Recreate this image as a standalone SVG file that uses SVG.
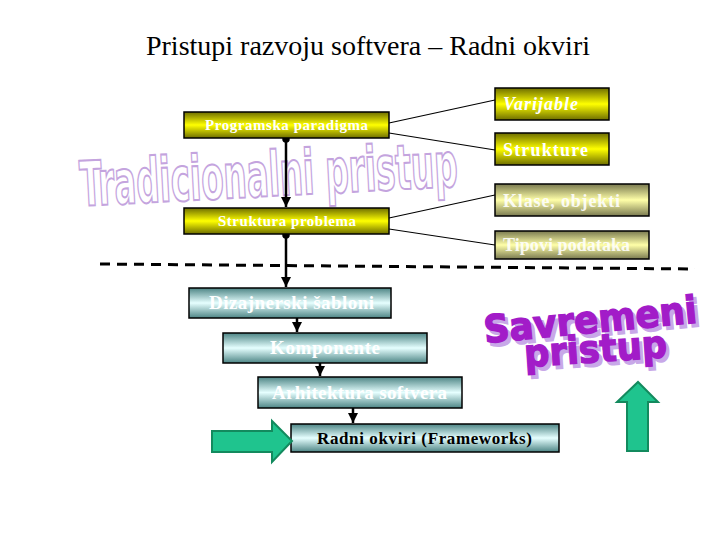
<svg xmlns="http://www.w3.org/2000/svg" width="720" height="540" viewBox="0 0 720 540">
<defs>
<linearGradient id="gy" x1="0" y1="0" x2="0" y2="1">
<stop offset="0" stop-color="#6e6e00"/><stop offset="0.5" stop-color="#ffff00"/><stop offset="1" stop-color="#6e6e00"/>
</linearGradient>
<linearGradient id="gk" x1="0" y1="0" x2="0" y2="1">
<stop offset="0" stop-color="#7a7a50"/><stop offset="0.5" stop-color="#ffffa8"/><stop offset="1" stop-color="#7a7a50"/>
</linearGradient>
<linearGradient id="gt" x1="0" y1="0" x2="0" y2="1">
<stop offset="0" stop-color="#4d8585"/><stop offset="0.5" stop-color="#e6ffff"/><stop offset="1" stop-color="#4d8585"/>
</linearGradient>
<marker id="ah" viewBox="0 0 10 10" refX="10" refY="5" markerWidth="4" markerHeight="4" orient="auto" markerUnits="strokeWidth">
<path d="M0,0 L10,5 L0,10 z" fill="#000"/>
</marker>
<marker id="dot" viewBox="0 0 10 10" refX="5" refY="5" markerWidth="3" markerHeight="3" markerUnits="strokeWidth">
<circle cx="5" cy="5" r="5" fill="#000"/>
</marker>
<style>
.box{stroke:#000;stroke-width:1.5}
.wt{font-family:"Liberation Serif",serif;font-weight:bold;fill:#fff}
.bt{font-family:"Liberation Serif",serif;font-weight:bold;fill:#000}
.ln{stroke:#000;stroke-width:1.2;fill:none}
.va{stroke:#000;stroke-width:2.5;fill:none}
.ga{fill:#1fc48e;stroke:#138a5e;stroke-width:2}
</style>
</defs>
<rect width="720" height="540" fill="#fff"/>
<text x="368" y="55" font-family="Liberation Serif, serif" font-size="28" text-anchor="middle" fill="#000">Pristupi razvoju softvera – Radni okviri</text>

<g id="tradicionalni">
<text x="81" y="206" transform="rotate(-3 81 206)" font-family="Liberation Sans Narrow, DejaVu Sans Condensed, sans-serif" font-weight="bold" font-size="62" fill="#fff" stroke="#c4a4de" stroke-width="2" textLength="378" lengthAdjust="spacingAndGlyphs">Tradicionalni pristup</text>
</g>

<g id="savremeni">
<g transform="rotate(-5.5 485 343)">
<text x="488" y="347" font-family="DejaVu Sans, sans-serif" font-weight="bold" font-size="38" fill="#c8a8e8" stroke="#c8a8e8" stroke-width="1.5" textLength="214" lengthAdjust="spacingAndGlyphs">Savremeni</text>
<text x="485" y="343" font-family="DejaVu Sans, sans-serif" font-weight="bold" font-size="38" fill="#a21cc8" stroke="#a21cc8" stroke-width="1.5" textLength="214" lengthAdjust="spacingAndGlyphs">Savremeni</text>
</g>
<g transform="rotate(-4 525 367)">
<text x="528" y="371" font-family="DejaVu Sans, sans-serif" font-weight="bold" font-size="38" fill="#c8a8e8" stroke="#c8a8e8" stroke-width="1.5" textLength="143" lengthAdjust="spacingAndGlyphs">pristup</text>
<text x="525" y="367" font-family="DejaVu Sans, sans-serif" font-weight="bold" font-size="38" fill="#a21cc8" stroke="#a21cc8" stroke-width="1.5" textLength="143" lengthAdjust="spacingAndGlyphs">pristup</text>
</g>
</g>

<g id="connectors">
<line class="ln" x1="389" y1="123" x2="495" y2="100"/>
<line class="ln" x1="389" y1="133" x2="495" y2="150"/>
<line class="ln" x1="389" y1="218" x2="495" y2="195"/>
<line class="ln" x1="389" y1="229" x2="495" y2="245"/>
<line class="va" x1="286" y1="139" x2="286" y2="207" marker-start="url(#dot)" marker-end="url(#ah)"/>
<line class="va" x1="286" y1="235" x2="286" y2="287" marker-start="url(#dot)" marker-end="url(#ah)"/>
<line class="va" x1="297" y1="318" x2="297" y2="332" stroke-width="2" marker-end="url(#ah)"/>
<line class="va" x1="320" y1="363" x2="320" y2="376" stroke-width="2" marker-end="url(#ah)"/>
<line class="va" x1="353" y1="408" x2="353" y2="423" stroke-width="2" marker-end="url(#ah)"/>
<line x1="100" y1="264" x2="695" y2="269" stroke="#000" stroke-width="3" stroke-dasharray="10 7"/>
</g>

<g id="programska">
<rect class="box" x="184" y="112" width="205" height="26" fill="url(#gy)"/>
<text class="wt" x="205" y="130" font-size="15" textLength="163">Programska paradigma</text>
</g>
<g id="struktura">
<rect class="box" x="184" y="208" width="205" height="26" fill="url(#gy)"/>
<text class="wt" x="218" y="226" font-size="15" textLength="138">Struktura problema</text>
</g>
<g id="varijable">
<rect class="box" x="495" y="88" width="114" height="32" fill="url(#gy)"/>
<text class="wt" x="503" y="110" font-size="18" font-style="italic" textLength="75">Varijable</text>
</g>
<g id="strukture">
<rect class="box" x="495" y="133" width="114" height="32" fill="url(#gy)"/>
<text class="wt" x="503" y="156" font-size="18" textLength="85">Strukture</text>
</g>
<g id="klase">
<rect class="box" x="495" y="184" width="154" height="32" fill="url(#gk)"/>
<text class="wt" x="503" y="207" font-size="18" fill-opacity="0.9" textLength="117">Klase, objekti</text>
</g>
<g id="tipovi">
<rect class="box" x="495" y="231" width="154" height="28" fill="url(#gk)"/>
<text class="wt" x="503" y="251" font-size="18" fill-opacity="0.9" textLength="127">Tipovi podataka</text>
</g>
<g id="dizajnerski">
<rect class="box" x="189" y="288" width="202" height="30" fill="url(#gt)"/>
<text class="wt" x="209" y="309" font-size="19" textLength="165">Dizajnerski šabloni</text>
</g>
<g id="komponente">
<rect class="box" x="223" y="333" width="204" height="30" fill="url(#gt)"/>
<text class="wt" x="270" y="354" font-size="19" textLength="110">Komponente</text>
</g>
<g id="arhitektura">
<rect class="box" x="258" y="377" width="204" height="31" fill="url(#gt)"/>
<text class="wt" x="272" y="399" font-size="19" textLength="175">Arhitektura softvera</text>
</g>
<g id="radni">
<rect class="box" x="291" y="424" width="268" height="28" fill="url(#gt)"/>
<text class="bt" x="317" y="444" font-size="17" textLength="215">Radni  okviri (Frameworks)</text>
</g>

<g id="arrow-right">
<polygon class="ga" points="212,431 272,431 272,421 292,441 272,462 272,452 212,452"/>
</g>
<g id="arrow-up">
<polygon class="ga" points="627,451 627,402 617,402 638,382 658,402 648,402 648,451"/>
</g>
</svg>
